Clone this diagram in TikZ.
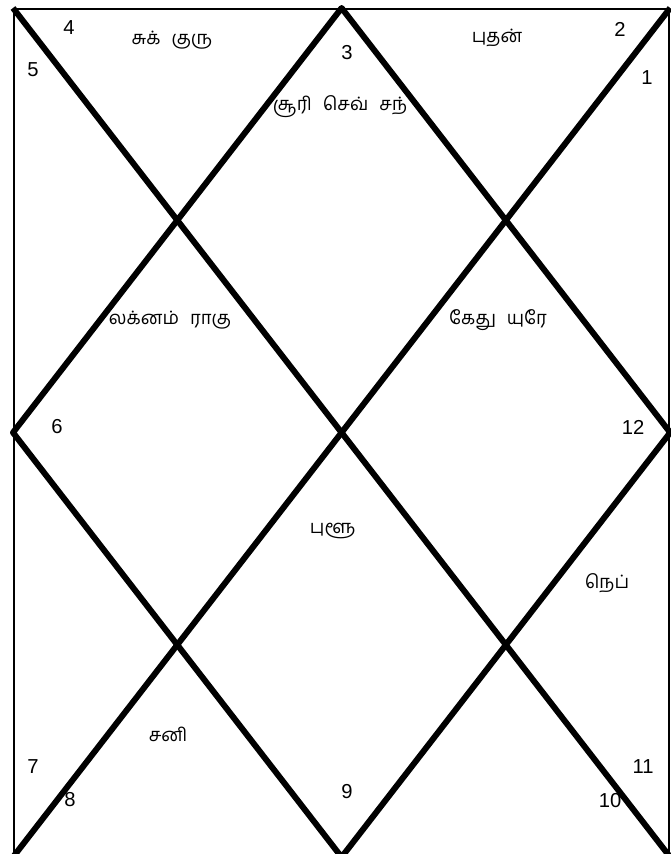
\documentclass[tikz,border=0pt]{standalone}
\usepackage{fontspec}
\setmainfont{Liberation Sans}
\newfontfamily\tamil[Script=Tamil]{Hind Madurai}
\newcommand{\gap}{\hspace{0.6em}}
\tikzset{house/.style={font=\tamil\fontsize{10.5}{12}\selectfont},
  num/.style={font=\fontsize{11.5}{13}\selectfont}}

\begin{document}
\begin{tikzpicture}[x=0.02cm,y=-0.02cm]
\clip (0,0) rectangle (671,854);
% create the node
\node[draw,line width=1.3pt,minimum width=13.1cm,minimum height=16.94cm,inner sep=0pt,anchor=north west] (a) at (13,8) {};

% the diamond and the two diagonals
\draw[line width=3.4pt,line join=round] (a.north) -- (a.west) -- (a.south) -- (a.east) -- cycle;
\draw[line width=3.4pt] (a.north west) -- (a.south east);
\draw[line width=3.4pt] (a.north east) -- (a.south west);

% house numbers
\foreach \n/\x/\y in {1/647/78,2/620/29,3/347/53,4/69/28,5/33/70,6/57/427,
  7/33/767,8/70/800,9/347/792,10/610/801,11/643/767,12/633/427}
  \node[num] (h\n) at (\x,\y) {\n};

% planets
\node[house] (p4) at (172,40) {சுக்\gap குரு};
\node[house] (p3) at (340,107) {சூரி\gap செவ்\gap சந்};
\node[house] (p2) at (497,38) {புதன்};
\node[house] (p5) at (170,320) {லக்னம்\gap ராகு};
\node[house] (p1) at (498,320) {கேது\gap யுரே};
\node[house] (p9) at (333,531) {புளூ};
\node[house] (p11) at (607,583) {நெப்};
\node[house] (p8) at (168,734) {சனி};

\end{tikzpicture}
\end{document}
